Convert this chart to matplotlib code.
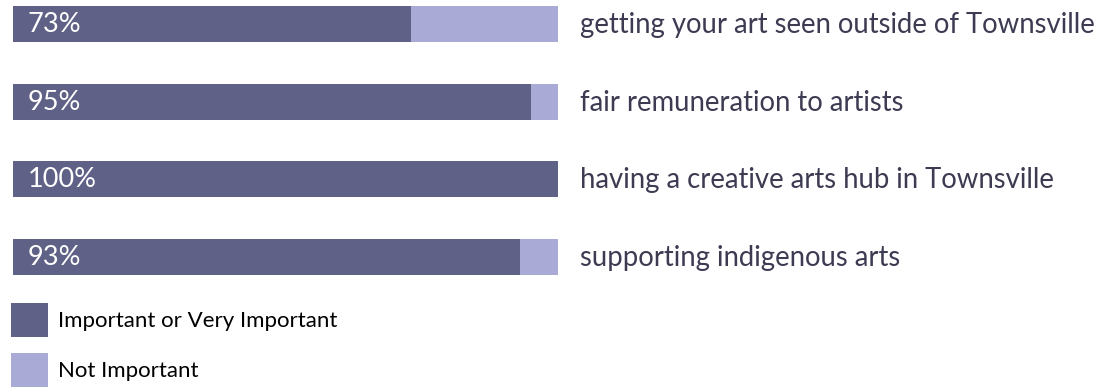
import numpy as np
import matplotlib
matplotlib.use('Agg')
import matplotlib.pyplot as plt
from matplotlib.patches import Patch

# survey results, share of respondents (%)
topics = ['getting your art seen outside of Townsville',
          'fair remuneration to artists',
          'having a creative arts hub in Townsville',
          'supporting indigenous arts']
important = [73, 95, 100, 93]
not_important = [27, 5, 0, 7]
legend_labels = ['Important or Very Important', 'Not Important']

dark = '#5f6286'
light = '#a9aad6'
label_color = '#3c3b52'

plt.rcParams['font.family'] = ['Lato', 'DejaVu Sans']

W, H = 1100, 388
fig = plt.figure(figsize=(W / 100, H / 100), dpi=100)

# bar area in pixels: x 13..558, first bar centre at 24, 77.5 px per row
px_left, px_right = 13, 558
row = 77.5
top_px, bot_px = 0, 290
ax = fig.add_axes([px_left / W, 1 - bot_px / H,
                   (px_right - px_left) / W, (bot_px - top_px) / H])
ax.set_xlim(0, 100)
ax.set_ylim((bot_px - 24) / row, (top_px - 24) / row)
ax.axis('off')

y = np.arange(len(topics))
bar_h = 36 / row
ax.barh(y, important, height=bar_h, color=dark, linewidth=0)
ax.barh(y, not_important, left=important, height=bar_h, color=light, linewidth=0)

for i, (topic, val) in enumerate(zip(topics, important)):
    ax.annotate(f'{val}%', xy=(0, i), xytext=(10.5, -0.5), textcoords='offset points',
                ha='left', va='center', color='white', fontsize=19.5)
    ax.annotate(topic, xy=(100, i), xytext=(16, 1), textcoords='offset points',
                ha='left', va='center_baseline', color=label_color, fontsize=19.85)

handles = [Patch(facecolor=dark, edgecolor='none'),
           Patch(facecolor=light, edgecolor='none')]
fig.legend(handles, legend_labels, loc='upper left',
           bbox_to_anchor=(11 / W, 1 - 303 / H), frameon=False,
           fontsize=16, handlelength=1.67, handleheight=1.97,
           handletextpad=0.45, labelspacing=0.72, borderpad=0,
           borderaxespad=0)

fig.savefig('out.png', dpi=100, facecolor='white')
